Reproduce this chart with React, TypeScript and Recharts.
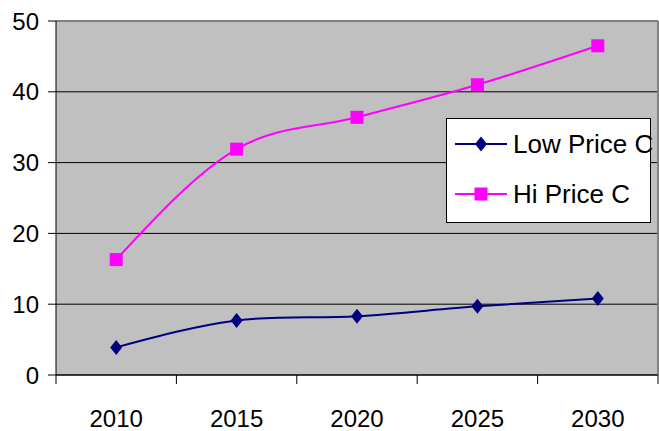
import { CartesianGrid, Legend, Line, LineChart, ReferenceLine, XAxis, YAxis } from 'recharts'

const years = [2010, 2015, 2020, 2025, 2030]
const lowPrice = [3.9, 7.7, 8.3, 9.7, 10.8]
const hiPrice = [16.3, 31.9, 36.4, 41.0, 46.5]
const yTicks = [0, 10, 20, 30, 40, 50]

const data = years.map((year, i) => ({ year, low: lowPrice[i], hi: hiPrice[i] }))

// category boundaries sit halfway between the labelled years
const step = years[1] - years[0]
const bounds = [...years.map((y) => y - step / 2), years[years.length - 1] + step / 2]
const xTicks = [...bounds, ...years].sort((a, b) => a - b)

const FONT = '"Liberation Sans", Arial, sans-serif'
const LOW = '#000080'
const HI = '#FF00FF'
const seriesOrder = ['low', 'hi']

type Pt = [number, number]

// tangent at an inner point: Catmull-Rom; at the ends: halfway between chord and quadratic end
const tangent = (pts: Pt[], i: number): Pt => {
  const n = pts.length
  if (n < 3) {
    const a = pts[0]
    const b = pts[n - 1]
    return [b[0] - a[0], b[1] - a[1]]
  }
  if (i === 0) {
    const m = tangent(pts, 1)
    return [(3 * (pts[1][0] - pts[0][0]) - m[0]) / 2, (3 * (pts[1][1] - pts[0][1]) - m[1]) / 2]
  }
  if (i === n - 1) {
    const m = tangent(pts, n - 2)
    return [
      (3 * (pts[n - 1][0] - pts[n - 2][0]) - m[0]) / 2,
      (3 * (pts[n - 1][1] - pts[n - 2][1]) - m[1]) / 2,
    ]
  }
  return [(pts[i + 1][0] - pts[i - 1][0]) / 2, (pts[i + 1][1] - pts[i - 1][1]) / 2]
}

// smoothed line built as a d3-style curve factory
const smooth = (context: any) => {
  let pts: Pt[] = []
  return {
    areaStart() {},
    areaEnd() {},
    lineStart() {
      pts = []
    },
    point(x: number, y: number) {
      pts.push([+x, +y])
    },
    lineEnd() {
      if (!pts.length) return
      context.moveTo(pts[0][0], pts[0][1])
      for (let i = 0; i < pts.length - 1; i++) {
        const t1 = tangent(pts, i)
        const t2 = tangent(pts, i + 1)
        const p1 = pts[i]
        const p2 = pts[i + 1]
        context.bezierCurveTo(
          p1[0] + t1[0] / 3,
          p1[1] + t1[1] / 3,
          p2[0] - t2[0] / 3,
          p2[1] - t2[1] / 3,
          p2[0],
          p2[1],
        )
      }
    },
  }
}

const Diamond = ({ cx, cy, fill }: { cx: number; cy: number; fill: string }) => (
  <polygon
    points={`${cx},${cy - 7.5} ${cx + 6},${cy} ${cx},${cy + 7.5} ${cx - 6},${cy}`}
    fill={fill}
  />
)

const Square = ({ cx, cy, fill }: { cx: number; cy: number; fill: string }) => (
  <rect x={cx - 6.5} y={cy - 6.5} width={13} height={13} fill={fill} />
)

const XTick = (props: any) => {
  const { x, y, payload } = props
  const v = payload.value
  if (bounds.includes(v)) {
    return <line x1={x} x2={x} y1={y} y2={y + 9} stroke='#000' />
  }
  return (
    <text x={x} y={y + 52} textAnchor='middle' fill='#000' fontSize={24} fontFamily={FONT}>
      {v}
    </text>
  )
}

const markers: Record<string, any> = { low: Diamond, hi: Square }

const LegendBox = (props: any) => {
  const payload = [...(props.payload || [])].sort(
    (a: any, b: any) => seriesOrder.indexOf(a.dataKey) - seriesOrder.indexOf(b.dataKey),
  )
  return (
    <div
      style={{
        width: 205,
        height: 105,
        boxSizing: 'border-box',
        border: '1px solid #000',
        background: '#fff',
        fontFamily: FONT,
        fontSize: 26,
        color: '#000',
        position: 'relative',
      }}>
      {payload.map((entry: any, i: number) => {
        const Marker = markers[entry.dataKey]
        return (
          <div
            key={entry.value}
            style={{ position: 'absolute', left: 0, top: i * 50, height: 50, width: 205 }}>
            <svg width={54} height={20} style={{ position: 'absolute', left: 8, top: 15 }}>
              <line x1={0} x2={52} y1={10} y2={10} stroke={entry.color} strokeWidth={2} />
              <Marker cx={26} cy={10} fill={entry.color} />
            </svg>
            <span
              style={{
                position: 'absolute',
                left: 66,
                top: 25,
                transform: 'translateY(-50%)',
                whiteSpace: 'nowrap',
                lineHeight: 1,
              }}>
              {entry.value}
            </span>
          </div>
        )
      })}
    </div>
  )
}

const App = () => (
  <div style={{ position: 'absolute', left: 0, top: 0 }}>
    <LineChart width={659} height={431} data={data} margin={{ top: 21, right: 1, bottom: 0, left: 0 }}>
      <CartesianGrid vertical={false} stroke='#000' fill='#C0C0C0' fillOpacity={1} />
      <XAxis
        dataKey='year'
        type='number'
        domain={[bounds[0], bounds[bounds.length - 1]]}
        ticks={xTicks}
        interval={0}
        tickLine={false}
        tickSize={0}
        tickMargin={0}
        tick={<XTick />}
        axisLine={{ stroke: '#000' }}
        height={56}
      />
      <YAxis
        domain={[0, 50]}
        ticks={yTicks}
        interval={0}
        width={56}
        tickSize={8}
        tickMargin={9}
        axisLine={{ stroke: '#000' }}
        tickLine={{ stroke: '#000' }}
        tick={{ fill: '#000', fontSize: 24, fontFamily: FONT }}
      />
      <ReferenceLine y={50} stroke='#808080' strokeWidth={2} />
      <ReferenceLine x={bounds[bounds.length - 1]} stroke='#808080' strokeWidth={2} />
      <Legend
        layout='vertical'
        align='center'
        verticalAlign='middle'
        content={<LegendBox />}
        wrapperStyle={{ left: 446, top: 118, width: 205, height: 105 }}
      />
      <Line
        name='Low Price C'
        dataKey='low'
        stroke={LOW}
        strokeWidth={2}
        type={smooth as any}
        dot={(p: any) => <Diamond key={p.index} cx={p.cx} cy={p.cy} fill={LOW} />}
        activeDot={false}
        isAnimationActive={false}
      />
      <Line
        name='Hi Price C'
        dataKey='hi'
        stroke={HI}
        strokeWidth={2}
        type={smooth as any}
        dot={(p: any) => <Square key={p.index} cx={p.cx} cy={p.cy} fill={HI} />}
        activeDot={false}
        isAnimationActive={false}
      />
    </LineChart>
  </div>
)

export default App
